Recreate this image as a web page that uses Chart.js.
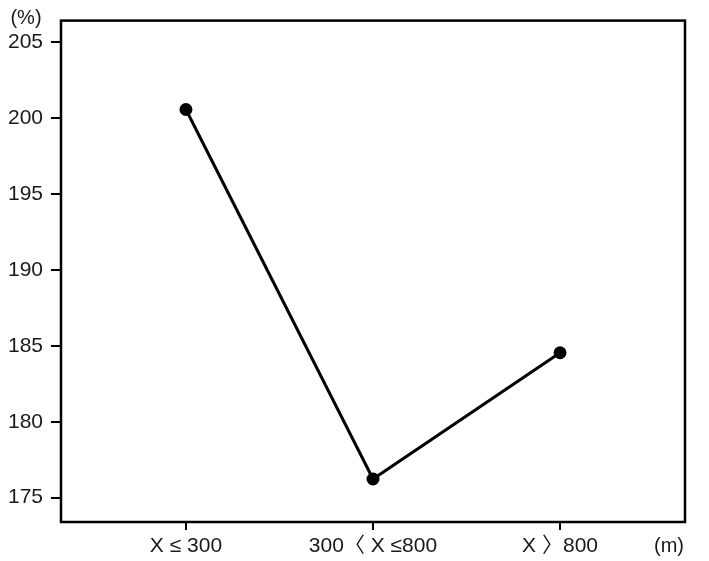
<!DOCTYPE html>
<html>
<head>
<meta charset="utf-8">
<script src="https://cdn.jsdelivr.net/npm/chart.js@4/dist/chart.umd.min.js"></script>
<style>
  html, body { margin: 0; padding: 0; background: #fff; }
  #wrap { width: 709px; height: 561px; }
</style>
</head>
<body>
<div id="wrap"><canvas id="graf-linha" width="709" height="561"></canvas></div>
<script>
// dados do grafico
var categorias = ['X ≤ 300', '300〈 X ≤800', 'X 〉800']
var valores = [200.55, 176.23, 184.54]
var yTicks = [175, 180, 185, 190, 195, 200, 205]

var fonte = '"Liberation Sans", "Noto Sans CJK JP", sans-serif'

// moldura e unidades dos eixos
var molduraPlugin = {
    id: 'moldura',
    afterDraw: function(chart){
        var ctx = chart.ctx
        var a = chart.chartArea
        ctx.save()
        ctx.strokeStyle = '#000'
        ctx.lineWidth = 2.5
        ctx.strokeRect(a.left, a.top, a.right - a.left, a.bottom - a.top)
        ctx.fillStyle = '#1a1a1a'
        ctx.font = '20px ' + fonte
        ctx.textBaseline = 'middle'
        ctx.textAlign = 'center'
        ctx.fillText('(%)', 26, 18)
        ctx.fillText('(m)', 669, 546)
        ctx.restore()
    }
}

function gerarGrafico(){
    var pontos = []
    valores.forEach(function(val, num){
        pontos.push({x: num, y: val})
    })

    new Chart(document.getElementById('graf-linha').getContext('2d'), {
        type: 'line',
        data: {
            datasets: [{
                data: pontos,
                borderColor: '#000',
                backgroundColor: '#000',
                borderWidth: 3,
                pointRadius: 5,
                pointHoverRadius: 5,
                tension: 0
            }]
        },
        options: {
            responsive: false,
            animation: false,
            layout: { padding: { left: 0, top: 20, right: 24, bottom: 0 } },
            plugins: { legend: { display: false }, tooltip: { enabled: false } },
            scales: {
                x: {
                    type: 'linear',
                    min: -0.668,
                    max: 2.668,
                    afterBuildTicks: function(scale){
                        scale.ticks = categorias.map(function(c, i){ return {value: i} })
                    },
                    afterFit: function(scale){ scale.height = 39 },
                    grid: { drawOnChartArea: false, tickLength: 8, color: '#000', lineWidth: 2 },
                    border: { display: false },
                    ticks: {
                        padding: 4,
                        color: '#1a1a1a',
                        font: { size: 21, family: fonte },
                        maxRotation: 0,
                        callback: function(v){ return categorias[v] }
                    }
                },
                y: {
                    min: 173.4,
                    max: 206.4,
                    afterBuildTicks: function(scale){
                        scale.ticks = yTicks.map(function(v){ return {value: v} })
                    },
                    afterFit: function(scale){ scale.width = 61 },
                    grid: { drawOnChartArea: false, tickLength: 10, color: '#000', lineWidth: 2 },
                    border: { display: false },
                    ticks: {
                        padding: 8,
                        color: '#1a1a1a',
                        font: { size: 21, family: fonte }
                    }
                }
            }
        },
        plugins: [molduraPlugin]
    })
}

gerarGrafico()
</script>
</body>
</html>
